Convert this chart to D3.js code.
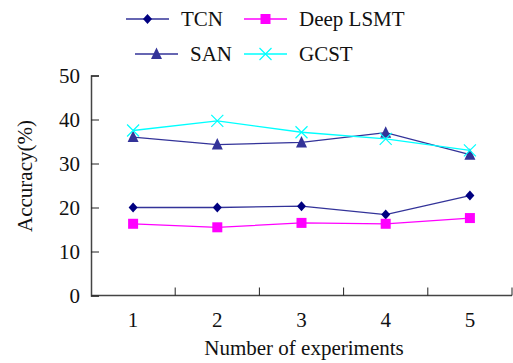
<!DOCTYPE html>
<html>
<head>
<meta charset="utf-8">
<script src="https://cdn.jsdelivr.net/npm/d3@7"></script>
<style>
  body { margin: 0; background: #fff; }
  text { font-family: "Liberation Serif", "Times New Roman", serif; fill: #111; }
</style>
</head>
<body>
<div id="chart"></div>
<script>
var experiments = [1, 2, 3, 4, 5];
var tcn = [20.0, 20.0, 20.3, 18.4, 22.7];
var deepLsmt = [16.3, 15.5, 16.5, 16.3, 17.6];
var san = [36.0, 34.3, 34.8, 37.0, 32.0];
var gcst = [37.5, 39.7, 37.1, 35.6, 33.0];
var yTicks = [0, 10, 20, 30, 40, 50];

var series = [
  { name: "TCN", values: tcn, line: "#333399", fill: "#000080", shape: "diamond" },
  { name: "Deep LSMT", values: deepLsmt, line: "#ff00ff", fill: "#ff00ff", shape: "square" },
  { name: "SAN", values: san, line: "#333399", fill: "#333399", shape: "triangle" },
  { name: "GCST", values: gcst, line: "#00ffff", fill: "#00ffff", shape: "cross" }
];

var width = 513, height = 363;
var margin = { top: 75.5, right: 1, bottom: 67.5, left: 91 };
var fontSize = "21px";

var svg = d3.select("#chart").append("svg")
  .attr("width", width)
  .attr("height", height);

var x = d3.scaleBand()
  .domain(experiments)
  .range([margin.left, width - margin.right]);

var y = d3.scaleLinear()
  .domain([0, 50])
  .range([height - margin.bottom, margin.top]);

// axes
var xAxis = svg.append("g")
  .attr("transform", "translate(0," + (height - margin.bottom) + ")");
xAxis.append("line")
  .attr("x1", margin.left).attr("x2", width - margin.right)
  .attr("stroke", "#444").attr("stroke-width", 1.5);
xAxis.selectAll(".tick")
  .data(experiments)
  .enter().append("line")
  .attr("x1", function(d) { return x(d) + x.bandwidth(); })
  .attr("x2", function(d) { return x(d) + x.bandwidth(); })
  .attr("y1", 0).attr("y2", -8)
  .attr("stroke", "#222").attr("stroke-width", 1);
xAxis.selectAll(".lbl")
  .data(experiments)
  .enter().append("text")
  .attr("x", function(d) { return x(d) + x.bandwidth() / 2; })
  .attr("y", 31)
  .attr("text-anchor", "middle")
  .style("font-size", fontSize)
  .text(function(d) { return d; });

var yAxis = svg.append("g")
  .attr("transform", "translate(" + margin.left + ",0)")
  .call(d3.axisLeft(y).tickValues(yTicks).tickSize(-8).tickPadding(11));
yAxis.select(".domain").attr("stroke", "#444").attr("stroke-width", 1.5);
yAxis.selectAll(".tick line").attr("stroke", "#222");
yAxis.selectAll(".tick text")
  .style("font-size", fontSize)
  .style("font-family", "'Liberation Serif', serif")
  .attr("fill", "#111");

svg.append("text")
  .attr("x", 304)
  .attr("y", 355)
  .attr("text-anchor", "middle")
  .style("font-size", fontSize)
  .text("Number of experiments");

svg.append("text")
  .attr("transform", "translate(32,176) rotate(-90)")
  .attr("text-anchor", "middle")
  .style("font-size", fontSize)
  .text("Accuracy(%)");

function drawMarker(g, s, cx, cy) {
  if (s.shape === "diamond") {
    g.append("path").attr("d", "M0,-5L4.5,0L0,5L-4.5,0Z")
      .attr("transform", "translate(" + cx + "," + cy + ")")
      .attr("fill", s.fill);
  } else if (s.shape === "square") {
    g.append("rect").attr("x", cx - 5).attr("y", cy - 5)
      .attr("width", 10).attr("height", 10).attr("fill", s.fill);
  } else if (s.shape === "triangle") {
    g.append("path").attr("d", "M0,-6.5L5.5,5L-5.5,5Z")
      .attr("transform", "translate(" + cx + "," + cy + ")")
      .attr("fill", s.fill);
  } else {
    g.append("path").attr("d", "M-6,-6L6,6M-6,6L6,-6")
      .attr("transform", "translate(" + cx + "," + cy + ")")
      .attr("stroke", s.fill).attr("stroke-width", 1.2).attr("fill", "none");
  }
}

var line = d3.line()
  .x(function(d, i) { return x(experiments[i]) + x.bandwidth() / 2; })
  .y(function(d) { return y(d); });

series.forEach(function(s) {
  var g = svg.append("g");
  g.append("path")
    .datum(s.values)
    .attr("d", line)
    .attr("fill", "none")
    .attr("stroke", s.line)
    .attr("stroke-width", 1.3);
  s.values.forEach(function(v, i) {
    drawMarker(g, s, x(experiments[i]) + x.bandwidth() / 2, y(v));
  });
});

// legend
var legendPos = [
  { lx: 126, ly: 19 },
  { lx: 244, ly: 19 },
  { lx: 135, ly: 54 },
  { lx: 244, ly: 54 }
];
series.forEach(function(s, i) {
  var p = legendPos[i];
  var g = svg.append("g");
  g.append("line")
    .attr("x1", p.lx).attr("x2", p.lx + 43)
    .attr("y1", p.ly).attr("y2", p.ly)
    .attr("stroke", s.line).attr("stroke-width", 1.3);
  drawMarker(g, s, p.lx + 21.5, p.ly);
  g.append("text")
    .attr("x", p.lx + 55)
    .attr("y", p.ly + 7)
    .style("font-size", fontSize)
    .text(s.name);
});
</script>
</body>
</html>
